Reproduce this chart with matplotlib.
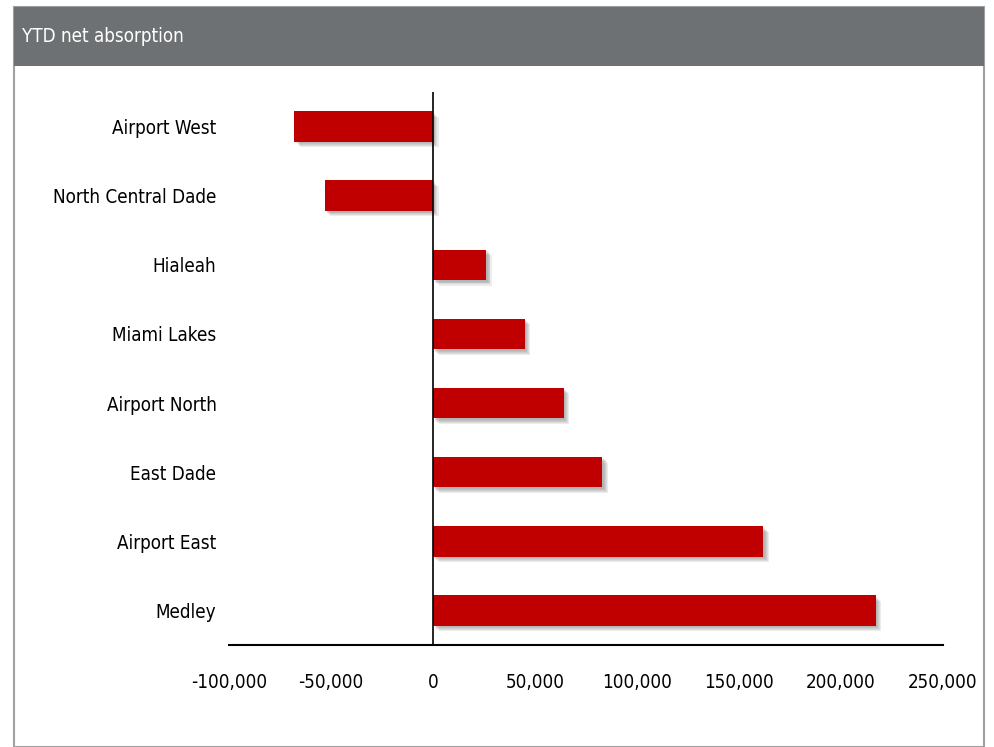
import matplotlib
matplotlib.use("Agg")
import matplotlib.pyplot as plt
import matplotlib.patheffects as pe
from matplotlib.patches import Rectangle

plt.rcParams['font.family'] = ['DejaVu Sans']
plt.rcParams['font.stretch'] = 'condensed'

title = "YTD net absorption"
categories = ["Medley", "Airport East", "East Dade", "Airport North",
              "Miami Lakes", "Hialeah", "North Central Dade", "Airport West"]
values = [217000, 162000, 83000, 64000, 45000, 26000, -53000, -68000]
xticks = [-100000, -50000, 0, 50000, 100000, 150000, 200000, 250000]

fig = plt.figure(figsize=(9.95, 7.47), dpi=100)
W, H = 995, 747

# Frame and header band
fig.patches.append(Rectangle((14 / W, 0), (984 - 14) / W, (747 - 7) / H,
                             transform=fig.transFigure, facecolor='white',
                             edgecolor='#a0a0a0', linewidth=1.5, zorder=-10))
fig.patches.append(Rectangle((14 / W, (747 - 66) / H), (984 - 14) / W, (66 - 7) / H,
                             transform=fig.transFigure, facecolor='#6e7173',
                             edgecolor='none', zorder=-9))
fig.text(22 / W, 1 - 37 / H, title, color='white', fontsize=13.5,
         va='center', ha='left')

ax = fig.add_axes([229 / W, (747 - 645) / H, (943 - 229) / W, (645 - 92) / H])
ax.set_zorder(5)
ax.set_facecolor('none')
ypos = list(range(len(categories)))
bars = ax.barh(ypos, values, height=0.44, color='#c00000', zorder=3)
shadow = [pe.SimplePatchShadow(offset=(d, -d), shadow_rgbFace='#707070', alpha=0.13)
          for d in (4.0, 3.2, 2.5, 1.8, 1.2)]
for b in bars:
    b.set_path_effects(shadow + [pe.Normal()])

ax.set_xlim(-100000, 250000)
ax.set_ylim(-0.5, 7.5)
ax.set_xticks(xticks)
ax.set_xticklabels([f"{v:,}" for v in xticks], fontsize=13.5)
ax.set_yticks(ypos)
ax.set_yticklabels(categories, fontsize=13.5)
ax.tick_params(axis='both', length=0)
ax.tick_params(axis='x', pad=20)
ax.tick_params(axis='y', pad=9)

for s in ['top', 'right', 'left']:
    ax.spines[s].set_visible(False)
ax.spines['bottom'].set_linewidth(1.5)
ax.axvline(0, color='black', linewidth=1.2, zorder=4)

fig.savefig("out.png", dpi=100)
